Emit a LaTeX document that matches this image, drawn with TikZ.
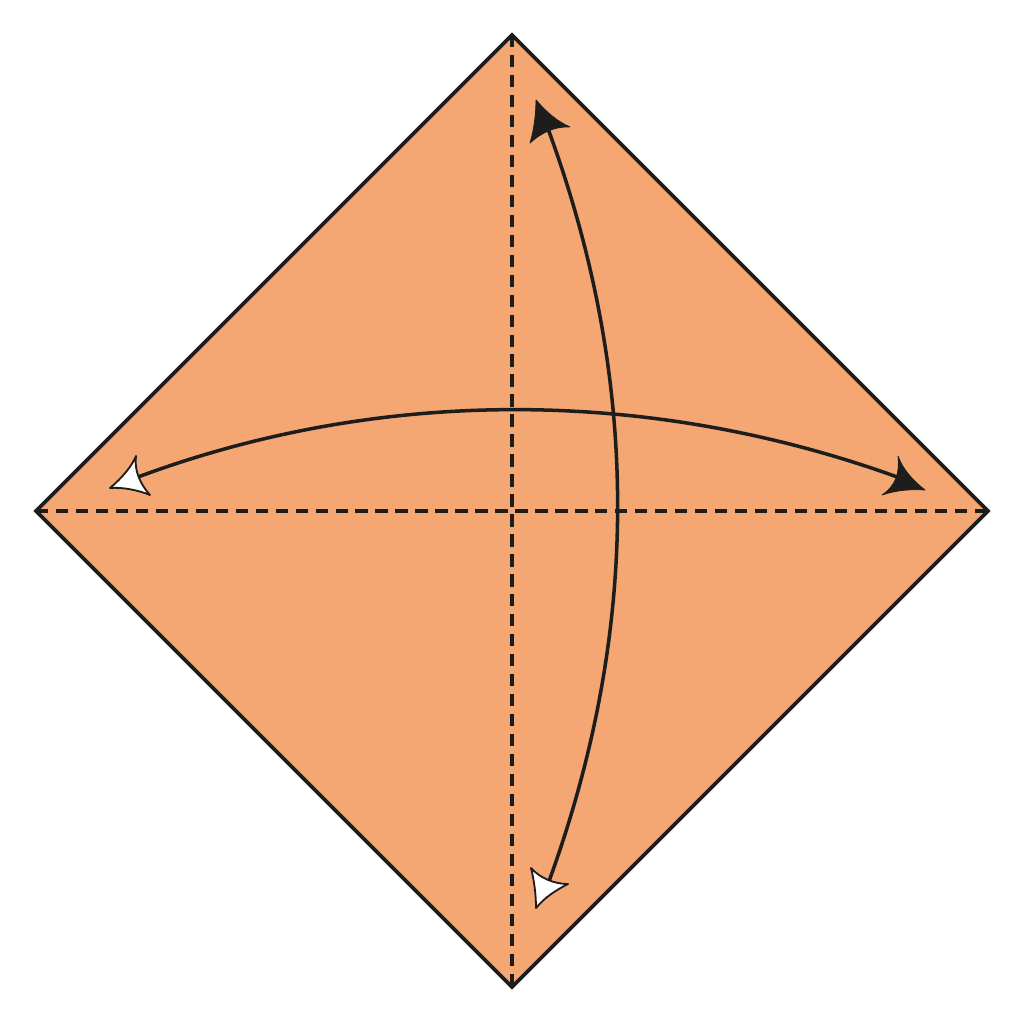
\documentclass[tikz,border=0pt]{standalone}
\usetikzlibrary{calc}
\definecolor{paper}{HTML}{F4A773}
\definecolor{ink}{HTML}{1D1D1B}
\tikzset{
  edge/.style={draw=ink, line width=2.7pt, line join=miter},
  foldline/.style={draw=ink, line width=2.6pt, dash pattern=on 8.8pt off 5.4pt},
  arc/.style={draw=ink, line width=2.5pt},
  blackhead/.style={fill=ink, draw=ink, line width=0.6pt, line join=round},
  whitehead/.style={fill=white, draw=ink, line width=1.3pt, line join=round}
}
\begin{document}
\begin{tikzpicture}[x=0.025cm, y=-0.025cm]
\useasboundingbox (0,0) rectangle (1024,1024);
\coordinate (T) at (512,35);
\coordinate (R) at (988,511);
\coordinate (B) at (512,987);
\coordinate (L) at (36,511);
\fill[paper] (T) -- (R) -- (B) -- (L) -- cycle;
\draw[foldline] (T) -- (B);
\draw[foldline] (L) -- (R);
\draw[edge] (T) -- (R) -- (B) -- (L) -- cycle;
% horizontal arc
\coordinate (hl) at (138,477);
\coordinate (hr) at (900,478);
\draw[arc] (hl) .. controls (380,387) and (650,387) .. (hr);
% vertical arc
\coordinate (vt) at (547,126);
\coordinate (vb) at (548,884);
\draw[arc] (vt) .. controls (641,380) and (641,630) .. (vb);
% left white arrowhead
\path[whitehead] (110,488) .. controls (122,478) and (132,466) .. (136,456)
  .. controls (134,470) and (140,484) .. (150,495)
  .. controls (138,490) and (122,487) .. (110,488) -- cycle;
% right black arrowhead
\path[blackhead] (925,490) .. controls (912,480) and (902,468) .. (898,456)
  .. controls (900,472) and (896,486) .. (882,495)
  .. controls (896,490) and (912,489) .. (925,490) -- cycle;
% top black arrowhead
\path[blackhead] (536,100) .. controls (546,112) and (558,122) .. (570,127)
  .. controls (556,126) and (542,132) .. (530,143)
  .. controls (534,130) and (536,114) .. (536,100) -- cycle;
% bottom white arrowhead
\path[whitehead] (536,908) .. controls (536,894) and (534,880) .. (531,868)
  .. controls (540,878) and (554,884) .. (568,884)
  .. controls (556,890) and (544,898) .. (536,908) -- cycle;
\end{tikzpicture}
\end{document}
